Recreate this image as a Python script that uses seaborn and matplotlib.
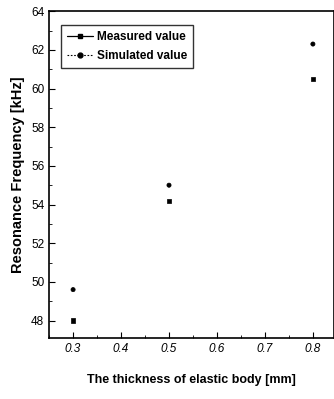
import matplotlib
matplotlib.use("Agg")
import matplotlib.pyplot as plt
from matplotlib.ticker import MultipleLocator
from matplotlib.lines import Line2D
import seaborn as sns
import pandas as pd

thickness = [0.3, 0.5, 0.8]
measured = [48.0, 54.2, 60.5]
simulated = [49.6, 55.0, 62.3]
series_names = ["Measured value", "Simulated value"]
x_ticks = [0.3, 0.4, 0.5, 0.6, 0.7, 0.8]
y_ticks = [48, 50, 52, 54, 56, 58, 60, 62, 64]

sns.set_theme(style="ticks")
plt.rcParams['font.family'] = ['Liberation Sans', 'DejaVu Sans']
plt.rcParams['text.color'] = 'black'
plt.rcParams['axes.labelcolor'] = 'black'
plt.rcParams['xtick.color'] = 'black'
plt.rcParams['ytick.color'] = 'black'

df = pd.DataFrame({
    "x": thickness * 2,
    "y": measured + simulated,
    "series": [series_names[0]] * 3 + [series_names[1]] * 3,
})

fig = plt.figure(figsize=(3.34, 3.99), dpi=100)
ax = fig.add_axes([0.147, 0.153, 0.853, 0.819])

sns.scatterplot(data=df, x="x", y="y", hue="series", style="series",
                markers={series_names[0]: "s", series_names[1]: "o"},
                palette={series_names[0]: "black", series_names[1]: "black"},
                s=9, edgecolor="black", linewidth=0.5, ax=ax, legend=False)

handles = [
    Line2D([], [], color="black", lw=0.9, ls="-", marker="s", ms=3.5),
    Line2D([], [], color="black", lw=0.8, ls=(0, (1.5, 1.5)), marker="o", ms=3.5),
]
leg = ax.legend(handles, series_names, loc="upper left", bbox_to_anchor=(0.02, 0.975),
                frameon=True, fancybox=False, edgecolor="black", fontsize=8.5,
                handlelength=2.2, handletextpad=0.4, borderpad=0.5, labelspacing=0.6)
leg.get_frame().set_linewidth(1.0)
for t in leg.get_texts():
    t.set_fontweight("bold")
    t.set_color("black")

ax.set_xlim(0.25, 0.844)
ax.set_ylim(47.1, 64)
ax.set_xticks(x_ticks)
ax.set_yticks(y_ticks)
ax.set_xticklabels([f"{v:.1f}" for v in x_ticks], fontstyle="italic", fontsize=8.5, color="black")
ax.set_yticklabels([str(v) for v in y_ticks], fontsize=8.5, color="black")
ax.xaxis.set_minor_locator(MultipleLocator(0.05))
ax.yaxis.set_minor_locator(MultipleLocator(1))
ax.tick_params(which="major", direction="in", length=4, width=0.8, top=False, right=False, colors="black")
ax.tick_params(which="minor", direction="in", length=2, width=0.6, top=False, right=False, colors="black")
for s in ["left", "bottom", "top", "right"]:
    ax.spines[s].set_linewidth(1.2)
    ax.spines[s].set_color("black")

ax.set_xlabel("The thickness of elastic body [mm]", fontsize=9, fontweight="bold", labelpad=14, color="black")
ax.set_ylabel("Resonance Frequency [kHz]", fontsize=10.5, fontweight="bold", labelpad=4, color="black")

fig.savefig("out.png", dpi=100)
